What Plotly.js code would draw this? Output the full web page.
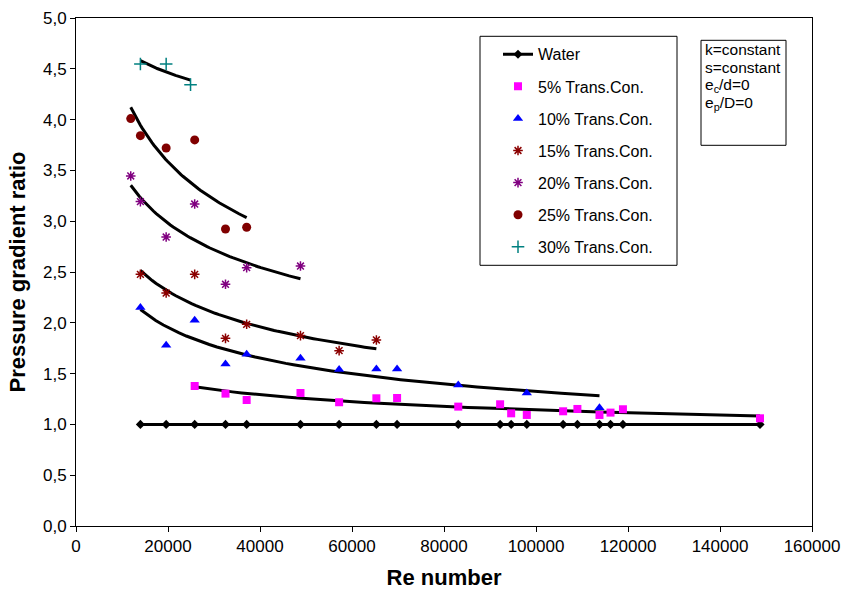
<!DOCTYPE html>
<html>
<head>
<meta charset="utf-8">
<script src="https://cdn.plot.ly/plotly-3.0.1.min.js"></script>
<style>html,body{margin:0;padding:0;background:#fff;}#chart{width:845px;height:590px;}</style>
</head>
<body>
<div id="chart"></div>
<script>
// ---- Data ----
const waterRe = [14000, 19600, 25800, 32500, 37100, 48800, 57200, 65300, 69800, 83100, 92200, 94600, 98000, 105900, 109000, 113800, 116200, 118900, 148700];
const waterRatio = [1, 1, 1, 1, 1, 1, 1, 1, 1, 1, 1, 1, 1, 1, 1, 1, 1, 1, 1];

const c5Re = [25800, 32500, 37100, 48800, 57200, 65300, 69800, 83100, 92200, 94600, 98000, 105900, 109000, 113800, 116200, 118900, 148700];
const c5Ratio = [1.378, 1.303, 1.24, 1.309, 1.218, 1.257, 1.26, 1.175, 1.198, 1.109, 1.093, 1.129, 1.152, 1.093, 1.116, 1.149, 1.06];

const c10Re = [14000, 19600, 25800, 32500, 37100, 48800, 57200, 65300, 69800, 83100, 98000, 113800];
const c10Ratio = [2.15, 1.78, 2.025, 1.595, 1.69, 1.65, 1.54, 1.545, 1.545, 1.388, 1.31, 1.165];

const c15Re = [14000, 19600, 25800, 32500, 37100, 48800, 57200, 65300];
const c15Ratio = [2.477, 2.293, 2.477, 1.847, 1.985, 1.874, 1.726, 1.831];

const c20Re = [11900, 14000, 19600, 25800, 32500, 37100, 48800];
const c20Ratio = [3.445, 3.193, 2.844, 3.169, 2.379, 2.543, 2.559];

const c25Re = [11900, 14000, 19600, 25800, 32500, 37100];
const c25Ratio = [4.01, 3.842, 3.72, 3.80, 2.923, 2.94];

const c30Re = [14000, 19600, 24900];
const c30Ratio = [4.547, 4.547, 4.344];

const xTicks = [0, 20000, 40000, 60000, 80000, 100000, 120000, 140000, 160000];
const yTicks = [0, 0.5, 1, 1.5, 2, 2.5, 3, 3.5, 4, 4.5, 5];

// ---- Power-law trendline (least squares in log-log space) ----
function powerTrend(xs, ys) {
  const n = xs.length;
  const lx = xs.map(Math.log), ly = ys.map(Math.log);
  let sx = 0, sy = 0, sxx = 0, sxy = 0;
  for (let i = 0; i < n; i++) { sx += lx[i]; sy += ly[i]; sxx += lx[i] * lx[i]; sxy += lx[i] * ly[i]; }
  const b = (n * sxy - sx * sy) / (n * sxx - sx * sx);
  const a = Math.exp((sy - b * sx) / n);
  const x0 = Math.min(...xs), x1 = Math.max(...xs);
  const tx = [], ty = [];
  const N = 60;
  for (let k = 0; k <= N; k++) {
    const x = x0 + (x1 - x0) * k / N;
    tx.push(x); ty.push(a * Math.pow(x, b));
  }
  return {x: tx, y: ty};
}

const FONT = "Liberation Sans, Arial, Helvetica, sans-serif";

function trend(xs, ys) {
  const t = powerTrend(xs, ys);
  return {x: t.x, y: t.y, mode: 'lines', type: 'scatter', showlegend: false, hoverinfo: 'skip',
          line: {color: '#000', width: 3}};
}

const series = [
  {name: 'Water', x: waterRe, y: waterRatio, mode: 'lines+markers',
   line: {color: '#000', width: 3}, marker: {symbol: 'diamond', size: 7, color: '#000'}},
  {name: '5% Trans.Con.', x: c5Re, y: c5Ratio, mode: 'markers',
   marker: {symbol: 'square', size: 8, color: '#FF00FF'}},
  {name: '10% Trans.Con.', x: c10Re, y: c10Ratio, mode: 'markers',
   marker: {symbol: 'triangle-up', size: 9, color: '#0000FF'}},
  {name: '15% Trans.Con.', x: c15Re, y: c15Ratio, mode: 'markers',
   marker: {symbol: 'asterisk-open', size: 8, color: '#8B0000', line: {color: '#8B0000', width: 1.5}}},
  {name: '20% Trans.Con.', x: c20Re, y: c20Ratio, mode: 'markers',
   marker: {symbol: 'asterisk-open', size: 8, color: '#800080', line: {color: '#800080', width: 1.5}}},
  {name: '25% Trans.Con.', x: c25Re, y: c25Ratio, mode: 'markers',
   marker: {symbol: 'circle', size: 9, color: '#800000'}},
  {name: '30% Trans.Con.', x: c30Re, y: c30Ratio, mode: 'markers',
   marker: {symbol: 'cross-thin-open', size: 9, color: '#008080', line: {color: '#008080', width: 1.5}}}
];

const traces = [];
traces.push(trend(c5Re, c5Ratio));
traces.push(trend(c10Re, c10Ratio));
traces.push(trend(c15Re, c15Ratio));
traces.push(trend(c20Re, c20Ratio));
traces.push(trend(c25Re, c25Ratio));
traces.push(trend(c30Re, c30Ratio));
series.forEach((s, i) => { s.type = 'scatter'; s.legendgroup = 'g' + i; s.hoverinfo = 'x+y'; traces.push(s); });

const annLines = ['k=constant', 's=constant', 'e<sub>c</sub>/d=0', 'e<sub>p</sub>/D=0'];
const annY = [49, 67, 85, 103];
const annotations = annLines.map((t, i) => ({
  xref: 'paper', yref: 'paper', x: (703 - 76) / 736, y: (525.7 - annY[i]) / 508,
  xanchor: 'left', yanchor: 'middle', showarrow: false, align: 'left',
  text: t, font: {family: FONT, size: 15.5, color: '#000'}
}));

const layout = {
  width: 845, height: 590,
  margin: {l: 76, r: 33, t: 18, b: 64, pad: 0},
  paper_bgcolor: '#fff', plot_bgcolor: '#fff',
  separators: ', ',
  font: {family: FONT, size: 17, color: '#000'},
  showlegend: true,
  xaxis: {
    range: [0, 160000], tickvals: xTicks, ticktext: xTicks.map(String),
    showgrid: false, zeroline: false, showline: true, mirror: true, linecolor: '#000', linewidth: 1,
    ticks: 'outside', ticklen: 5, tickcolor: '#000', tickfont: {family: FONT, size: 17, color: '#000'},
    title: {text: '<b>Re number</b>', font: {family: FONT, size: 22, color: '#000'}, standoff: 14},
    automargin: false
  },
  yaxis: {
    range: [0, 5], tickvals: yTicks, tickformat: '.1f',
    showgrid: false, zeroline: false, showline: true, mirror: true, linecolor: '#000', linewidth: 1,
    ticks: 'outside', ticklen: 5, tickcolor: '#000', tickfont: {family: FONT, size: 17, color: '#000'},
    title: {text: '<b>Pressure gradient ratio</b>', font: {family: FONT, size: 22, color: '#000'}, standoff: 11},
    automargin: false
  },
  legend: {
    x: (498 - 76) / 736, y: (525.7 - 37) / 508, xanchor: 'left', yanchor: 'top',
    bgcolor: 'rgba(0,0,0,0)', borderwidth: 0,
    font: {family: FONT, size: 16, color: '#000'},
    traceorder: 'grouped', tracegroupgap: 8.3, itemwidth: 30
  },
  shapes: [
    {type: 'rect', xref: 'paper', yref: 'paper',
     x0: (480 - 76) / 736, x1: (677 - 76) / 736, y0: (525.7 - 265) / 508, y1: (525.7 - 36) / 508,
     line: {color: '#000', width: 1}, fillcolor: 'rgba(0,0,0,0)'},
    {type: 'rect', xref: 'paper', yref: 'paper',
     x0: (701 - 76) / 736, x1: (786 - 76) / 736, y0: (525.7 - 145) / 508, y1: (525.7 - 40) / 508,
     line: {color: '#000', width: 1}, fillcolor: 'rgba(0,0,0,0)'}
  ],
  annotations: annotations
};

Plotly.newPlot('chart', traces, layout, {displayModeBar: false, staticPlot: true});
</script>
</body>
</html>
